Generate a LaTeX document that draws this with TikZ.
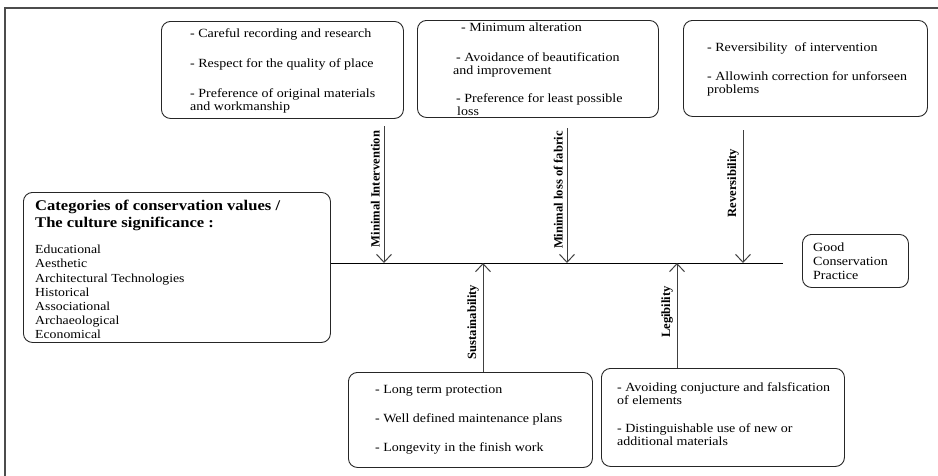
\documentclass[tikz,border=0pt]{standalone}
\usepackage{fontspec}
\setmainfont{Liberation Serif}
\newfontfamily\widefont{Liberation Serif}[FakeStretch=1.12]
\usetikzlibrary{arrows.meta}
\begin{document}
\begin{tikzpicture}[x=1pt,y=-1pt,
  box/.style={draw=black!85, line width=0.9pt, rounded corners=9pt, inner sep=0pt, anchor=north west},
  txt/.style={anchor=north west, inner sep=0pt, align=left, font=\widefont\fontsize{12.5}{13}\selectfont},
  lbl/.style={rotate=90, anchor=south, inner sep=0pt, font=\bfseries\fontsize{12.6}{14}\selectfont},
  arr/.style={draw=black!75, line width=1pt, -{Straight Barb[length=8pt,width=15pt]}},
  spine/.style={draw=black, line width=0.9pt},
  frame/.style={draw=black!70, line width=1.2pt}
]
\useasboundingbox (0,0) rectangle (938,475);
\draw[frame] (5,490) -- (5,8) -- (950,8);

% boxes
\node[box, minimum width=242pt, minimum height=97pt] (b1) at (161,21) {};
\node[box, minimum width=241pt, minimum height=97pt] (b2) at (417,20) {};
\node[box, minimum width=244pt, minimum height=96pt] (b3) at (683,20) {};
\node[box, minimum width=307pt, minimum height=150pt] (lb) at (23,192) {};
\node[box, minimum width=106pt, minimum height=53pt] (gp) at (802,234) {};
\node[box, minimum width=244pt, minimum height=95pt] (d1) at (348,372) {};
\node[box, minimum width=243pt, minimum height=98pt] (d2) at (601,368) {};

% texts
\node[txt] (t1) at (190,28) {- Careful recording and research\\[17pt]
- Respect for the quality of place\\[17pt]
- Preference of original materials\\and workmanship};
\node[txt] (t2) at (453,23) {\hspace*{8pt}- Minimum alteration\\[17pt]
\hspace*{3pt}- Avoidance of beautification\\and improvement\\[15pt]
\hspace*{3pt}- Preference for least possible\\\hspace*{4pt}loss};
\node[txt] (t3) at (707,42) {- Reversibility\ \ of intervention\\[16pt]
- Allowinh correction for unforseen\\problems};
\node[txt, font=\widefont\bfseries\fontsize{14.8}{17}\selectfont] (lt) at (35,200) {Categories of conservation values /\\The culture significance :};
\node[txt, font=\widefont\fontsize{12.3}{14.2}\selectfont] (ll) at (35,245) {Educational\\Aesthetic\\Architectural Technologies\\Historical\\Associational\\Archaeological\\Economical};
\node[txt, font=\widefont\fontsize{12.5}{14}\selectfont] (gt) at (813,243) {Good\\Conservation\\Practice};
\node[txt] (t4) at (375,385) {- Long term protection\\[16pt]
- Well defined maintenance plans\\[16pt]
- Longevity in the finish work};
\node[txt] (t5) at (617,382) {- Avoiding conjucture and falsfication\\of elements\\[15pt]
- Distinguishable use of new or\\additional materials};

% spine
\coordinate (se) at (783,263);
\draw[spine] (lb.east |- se) -- (se);

% arrows from above
\coordinate (a1) at (384,126);
\coordinate (a2) at (567,128);
\coordinate (a3) at (743,130);
\draw[arr] (a1) -- (a1 |- se);
\draw[arr] (a2) -- (a2 |- se);
\draw[arr] (a3) -- (a3 |- se);
\node[lbl] (l1) at (380,189) {Minimal Intervention};
\node[lbl] (l2) at (563,190) {Minimal loss of fabric};
\node[lbl] (l3) at (739,183) {Reversibility};

% arrows from below
\coordinate (a4) at (483,263);
\coordinate (a5) at (677,263);
\draw[arr] (d1.north -| a4) -- (a4);
\draw[arr] (d2.north -| a5) -- (a5);
\node[lbl] (l4) at (479,322) {Sustainability};
\node[lbl] (l5) at (673,312) {Legibility};
\end{tikzpicture}
\end{document}
